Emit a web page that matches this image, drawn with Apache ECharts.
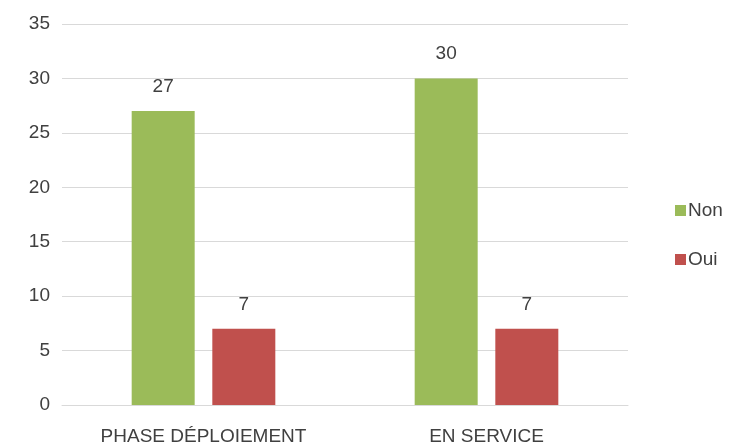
<!DOCTYPE html>
<html>
<head>
<meta charset="utf-8">
<script src="https://cdn.jsdelivr.net/npm/echarts@6/dist/echarts.min.js"></script>
<style>
  html, body { margin: 0; padding: 0; background: #fff; }
  #chart { width: 742px; height: 446px; }
</style>
</head>
<body>
<div id="chart"></div>
<script>
var categories = ['PHASE DÉPLOIEMENT', 'EN SERVICE'];
var nonValues = [27, 30];
var ouiValues = [7, 7];

var textColor = '#404040';
var fontFamily = '"Liberation Sans", "Open Sans", sans-serif';

var chart = echarts.init(document.getElementById('chart'));
chart.setOption({
    animation: false,
    textStyle: { fontFamily: fontFamily },
    grid: { left: 62, right: 114, top: 24, bottom: 40, containLabel: false },
    legend: {
        orient: 'vertical',
        left: 670,
        top: 196,
        itemWidth: 11,
        itemHeight: 11,
        itemGap: 30,
        icon: 'rect',
        textStyle: { color: textColor, fontSize: 19, padding: [0, 0, 0, -3] },
        data: ['Non', 'Oui']
    },
    xAxis: {
        type: 'category',
        data: categories,
        axisTick: { show: false },
        axisLine: { lineStyle: { color: '#d9d9d9', width: 1 } },
        axisLabel: { color: textColor, fontSize: 19, margin: 22 }
    },
    yAxis: {
        type: 'value',
        min: 0,
        max: 35,
        interval: 5,
        axisLine: { show: false },
        axisTick: { show: false },
        splitLine: { lineStyle: { color: '#d9d9d9', width: 1 } },
        axisLabel: { color: textColor, fontSize: 19, margin: 12 }
    },
    series: [
        {
            name: 'Non',
            type: 'bar',
            data: nonValues,
            barWidth: 63,
            barGap: '28%',
            itemStyle: { color: '#9BBB59' },
            label: { show: true, position: 'top', distance: 15, color: textColor, fontSize: 19 }
        },
        {
            name: 'Oui',
            type: 'bar',
            data: ouiValues,
            barWidth: 63,
            itemStyle: { color: '#C0504D' },
            label: { show: true, position: 'top', distance: 15, color: textColor, fontSize: 19 }
        }
    ]
});
</script>
</body>
</html>
